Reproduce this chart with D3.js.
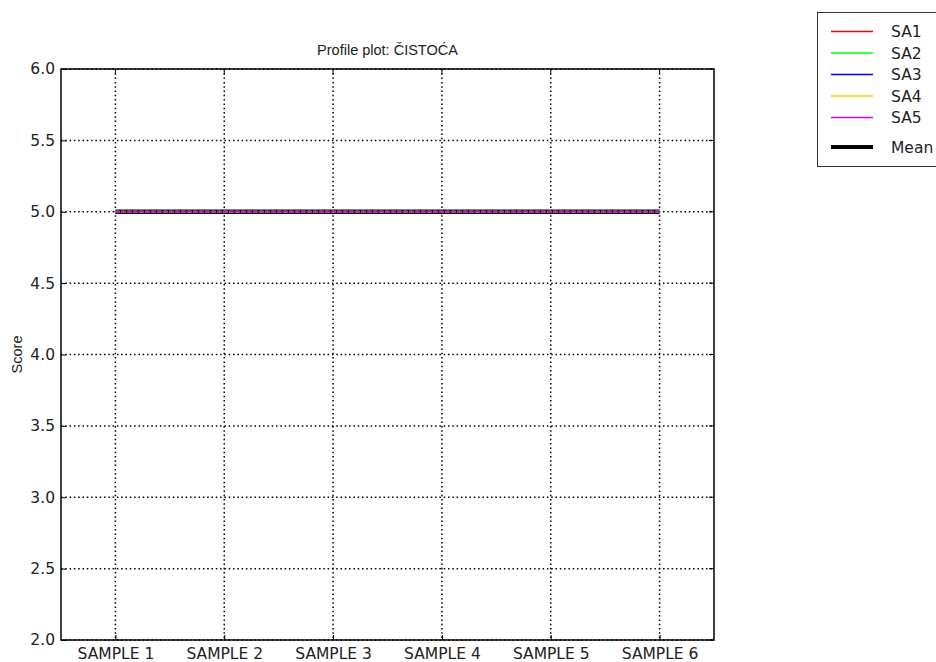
<!DOCTYPE html>
<html><head><meta charset="utf-8">
<script src="https://cdn.jsdelivr.net/npm/d3@7"></script>
<style>body{margin:0;background:#fff}svg{display:block}</style>
</head><body>
<svg id="c" width="936" height="662"></svg>
<script>
const samples = ["SAMPLE 1","SAMPLE 2","SAMPLE 3","SAMPLE 4","SAMPLE 5","SAMPLE 6"];
const assessors = ["SA1","SA2","SA3","SA4","SA5"];
const assessorColors = ["#ff0000","#00ff00","#0000ff","#ffcc00","#cc00ff"];
const SA1 = [5,5,5,5,5,5];
const SA2 = [5,5,5,5,5,5];
const SA3 = [5,5,5,5,5,5];
const SA4 = [5,5,5,5,5,5];
const SA5 = [5,5,5,5,5,5];
const yTicks = [2.0,2.5,3.0,3.5,4.0,4.5,5.0,5.5,6.0];
const title = "Profile plot: ČISTOĆA";

const series = [SA1,SA2,SA3,SA4,SA5];
const mean = samples.map((s,i)=>d3.mean(series,a=>a[i]));

const svg = d3.select("#c");
const L=61,R=714,T=69,B=640;
const x = d3.scaleLinear().domain([0.5, samples.length+0.5]).range([L,R]);
const y = d3.scaleLinear().domain([2,6]).range([B,T]);
const tickFont = "DejaVu Sans";
const fs = 15.5;

// grid
const g = svg.append("g");
g.selectAll("line.gx").data(samples).enter().append("line")
  .attr("x1",(d,i)=>x(i+1)).attr("x2",(d,i)=>x(i+1)).attr("y1",T).attr("y2",B)
  .attr("stroke","#000").attr("stroke-width",1.5).attr("stroke-dasharray","1.5,2.8");
g.selectAll("line.gy").data(yTicks).enter().append("line")
  .attr("x1",L).attr("x2",R).attr("y1",d=>y(d)).attr("y2",d=>y(d))
  .attr("stroke","#000").attr("stroke-width",1.5).attr("stroke-dasharray","1.5,2.8");

// lines
const line = d3.line().x((d,i)=>x(i+1)).y(d=>y(d));
svg.append("path").datum(mean).attr("d",line).attr("fill","none")
  .attr("stroke","#000").attr("stroke-width",4.5);
series.forEach((s,k)=>{
  svg.append("path").datum(s).attr("d",line).attr("fill","none")
    .attr("stroke",assessorColors[k]).attr("stroke-width",2).attr("stroke-dasharray","4,2");
});

// axes frame
svg.append("rect").attr("x",L).attr("y",T).attr("width",R-L).attr("height",B-T)
  .attr("fill","none").attr("stroke","#000").attr("stroke-width",1.5);

// ticks
const xa = d3.axisBottom(x).tickValues(samples.map((s,i)=>i+1)).tickFormat((d)=>samples[d-1]).tickSizeInner(-5).tickSizeOuter(0).tickPadding(8);
const xg = svg.append("g").attr("transform",`translate(0,${B})`).call(xa);
const ya = d3.axisLeft(y).tickValues(yTicks).tickFormat(d3.format(".1f")).tickSizeInner(-5).tickSizeOuter(0).tickPadding(6);
const yg = svg.append("g").attr("transform",`translate(${L},0)`).call(ya);
[xg,yg].forEach(a=>{
  a.select(".domain").remove();
  a.selectAll("text").attr("font-family",tickFont).attr("font-size",fs).attr("fill","#222");
  a.selectAll(".tick line").attr("stroke","#000").attr("stroke-width",1);
});
xg.selectAll("text").attr("dy","0.71em");
// top/right ticks
svg.append("g").selectAll("line").data(samples).enter().append("line")
  .attr("x1",(d,i)=>x(i+1)).attr("x2",(d,i)=>x(i+1)).attr("y1",T).attr("y2",T+5).attr("stroke","#000");
svg.append("g").selectAll("line").data(yTicks).enter().append("line")
  .attr("x1",R-5).attr("x2",R).attr("y1",d=>y(d)).attr("y2",d=>y(d)).attr("stroke","#000");

// title & label
svg.append("text").attr("x",(L+R)/2).attr("y",55).attr("text-anchor","middle")
  .attr("font-family","Liberation Sans Narrow, Liberation Sans, Arial").attr("font-size",14.5).attr("fill","#222").text(title);
svg.append("text").attr("transform",`translate(22,${(T+B)/2}) rotate(-90)`).attr("text-anchor","middle")
  .attr("font-family","Liberation Sans Narrow, Liberation Sans, Arial").attr("font-size",14.5).attr("fill","#222").text("Score");

// legend
const lg = svg.append("g");
lg.append("rect").attr("x",817.5).attr("y",12.5).attr("width",130).attr("height",154)
  .attr("fill","#fff").attr("stroke","#333").attr("stroke-width",1);
const items = assessors.map((a,i)=>({name:a,color:assessorColors[i],w:1.5,yy:31.5+i*21.5}));
items.push({name:"Mean",color:"#000",w:4,yy:147});
const li = lg.selectAll("g.it").data(items).enter().append("g");
li.append("line").attr("x1",831).attr("x2",873).attr("y1",d=>d.yy).attr("y2",d=>d.yy)
  .attr("stroke",d=>d.color).attr("stroke-width",d=>d.w);
li.append("text").attr("x",891).attr("y",d=>d.yy).attr("dy","0.36em")
  .attr("font-family",tickFont).attr("font-size",fs).attr("fill","#222").text(d=>d.name);
</script>
</body></html>
